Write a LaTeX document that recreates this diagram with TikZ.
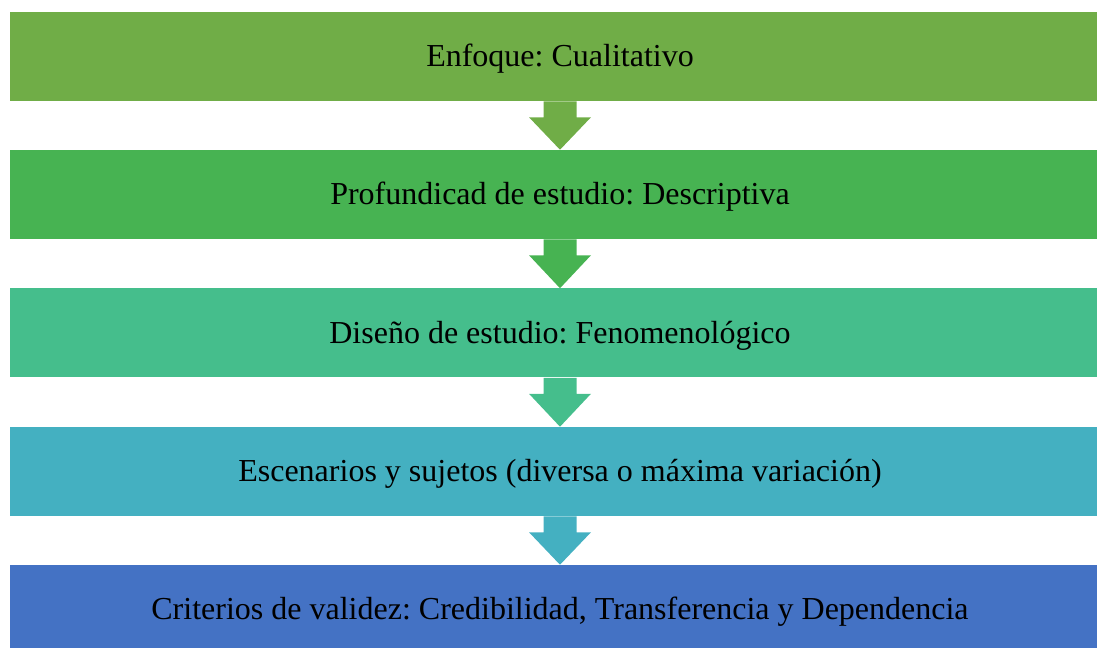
\documentclass[tikz,border=0pt]{standalone}
\usepackage{fontspec}
\setmainfont{Liberation Serif}
\usetikzlibrary{calc}
\frenchspacing
\definecolor{cA}{RGB}{112,173,71}
\definecolor{cB}{RGB}{71,179,82}
\definecolor{cC}{RGB}{69,190,140}
\definecolor{cD}{RGB}{68,176,193}
\definecolor{cE}{RGB}{68,114,196}
\newcommand\farrow[3]{%
  \fill[#3] ($(#1.south)+(-16.5,0)$) -- ($(#1.south)+(-16.5,16)$) -- ($(#1.south)+(-31,16)$)
    -- (#2.north) -- ($(#1.south)+(31,16)$) -- ($(#1.south)+(16.5,16)$) -- ($(#1.south)+(16.5,0)$) -- cycle;}
\begin{document}
\begin{tikzpicture}[x=0.75pt,y=-0.75pt,
  box/.style={minimum width=825pt, minimum height=66.75pt, inner sep=0pt,
    text height=20.4pt, text depth=5pt,
    font=\fontsize{24}{28}\selectfont\frenchspacing, text=black}]
\useasboundingbox (0,0) rectangle (1097,648);
\clip (0,0) rectangle (1097,648);
\node[box,fill=cA] (b1) at (560,56.5) {Enfoque: Cualitativo};
\node[box,fill=cB] (b2) at (560,194.5) {Profundicad de estudio: Descriptiva};
\node[box,fill=cC] (b3) at (560,333) {Diseño de estudio: Fenomenológico};
\node[box,fill=cD] (b4) at (560,471.5) {Escenarios y sujetos (diversa o máxima variación)};
\node[box,fill=cE] (b5) at (560,609.5) {Criterios de validez: Credibilidad, Transferencia y Dependencia};
\farrow{b1}{b2}{cA}
\farrow{b2}{b3}{cB}
\farrow{b3}{b4}{cC}
\farrow{b4}{b5}{cD}
\end{tikzpicture}
\end{document}
